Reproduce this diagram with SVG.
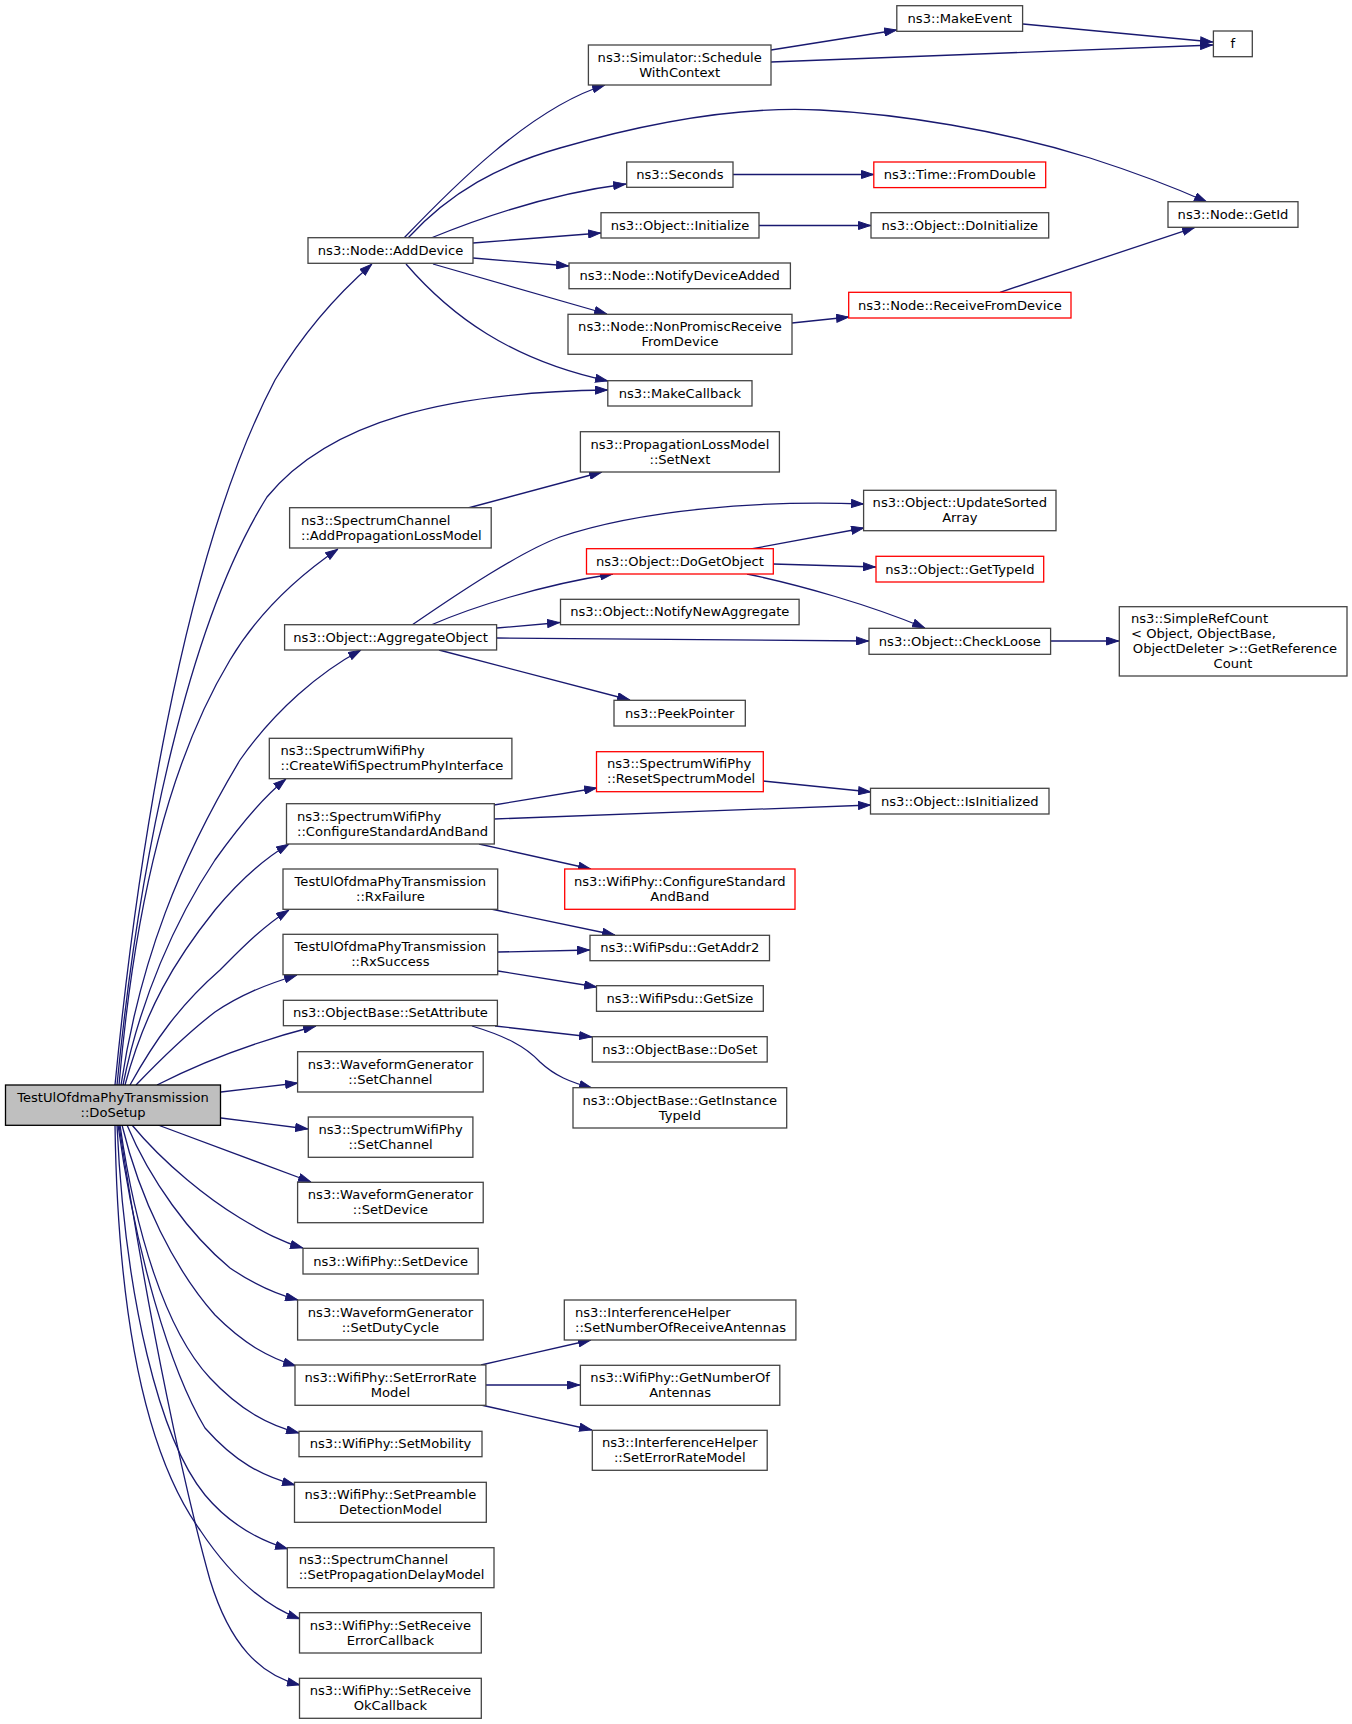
<svg xmlns="http://www.w3.org/2000/svg" width="1352" height="1724" viewBox="0 0 1352 1724">
<style>
.n rect{fill:#ffffff;stroke:#444444;stroke-width:1.3}
.n.r rect{stroke:#ff0000}
.n.root rect{fill:#bfbfbf;stroke:#000000}
text{font-family:"DejaVu Sans","Noto Sans",sans-serif;font-size:13.1px;fill:#000000}
.c{text-anchor:middle}
#edges path{fill:none;stroke:#191970;stroke-width:1.3;marker-end:url(#ah)}
</style>
<defs>
<marker id="ah" markerUnits="userSpaceOnUse" markerWidth="13" markerHeight="9" refX="13" refY="4.5" orient="auto" viewBox="0 0 13 9"><path d="M0.5,0.5 L12.5,4.5 L0.5,8.5 z" fill="#191970" stroke="#191970" stroke-width="1"/></marker>
</defs>
<rect x="0" y="0" width="1352" height="1724" fill="#ffffff"/>
<g id="edges">
<path d="M115,1085 C135,880 180,560 275,380 C305,330 340,292 372,264"/>
<path d="M117,1085 C140,850 190,620 267,497 C330,420 450,392 608,390"/>
<path d="M119,1085 C135,900 170,760 230,660 C260,610 300,575 338,549"/>
<path d="M121,1085 C140,960 180,860 240,760 C275,710 320,672 361,650"/>
<path d="M123,1085 C140,1000 175,920 215,860 C240,825 262,798 286,779"/>
<path d="M125,1085 C145,1010 175,960 215,910 C240,880 262,860 289,844"/>
<path d="M130,1085 C155,1040 180,1005 220,970 C240,950 262,927 289,910"/>
<path d="M136,1085 C160,1060 185,1035 215,1012 C240,995 265,985 297,975"/>
<path d="M157,1085 C200,1063 250,1043 316,1026"/>
<path d="M221,1092 L298,1083"/>
<path d="M221,1118 L308,1129"/>
<path d="M158,1125 L311,1182"/>
<path d="M132,1125 C165,1165 210,1200 240,1218 C265,1233 282,1242 303,1248"/>
<path d="M127,1125 C150,1180 190,1235 230,1268 C255,1285 275,1294 298,1300"/>
<path d="M122,1125 C140,1200 175,1270 215,1315 C245,1345 270,1358 296,1366"/>
<path d="M120,1125 C135,1230 165,1330 210,1378 C240,1410 268,1425 299,1433"/>
<path d="M118,1125 C135,1250 170,1370 205,1428 C235,1462 262,1476 295,1485"/>
<path d="M117,1125 C125,1300 160,1440 205,1495 C230,1525 258,1540 288,1549"/>
<path d="M115,1125 C118,1330 150,1460 200,1530 C230,1575 262,1605 300,1619"/>
<path d="M119,1125 C150,1330 185,1490 210,1580 C230,1645 260,1675 300,1685"/>
<path d="M404,238 C450,190 530,108 605,85"/>
<path d="M408,238 C450,192 500,165 560,148 C650,122 740,106 820,110 C900,114 1000,130 1090,158 C1140,174 1180,190 1207,202"/>
<path d="M431,238 C470,222 540,195 626,184"/>
<path d="M473,243 L601,233"/>
<path d="M473,258 L569,266"/>
<path d="M433,264 L607,314"/>
<path d="M406,264 C450,315 510,360 608,381"/>
<path d="M771,50 L897,30"/>
<path d="M771,62 L1213,45"/>
<path d="M1023,24 L1213,42"/>
<path d="M733,174.5 L874,174.5"/>
<path d="M759,225.5 L871,225.5"/>
<path d="M792,323 L849,317"/>
<path d="M1000,292.3 L1195,227.3"/>
<path d="M468,508 L602,472"/>
<path d="M412,625 C460,592 520,552 560,537 C640,510 760,500 864,504"/>
<path d="M431,625 C470,608 540,585 613,574"/>
<path d="M497,628 L560,622.5"/>
<path d="M497,638 L869,641"/>
<path d="M439,650 L630,700"/>
<path d="M751,549 L864,528"/>
<path d="M773,564 L876,567"/>
<path d="M747,574 C800,585 870,605 925,628"/>
<path d="M1051,641 L1119,641"/>
<path d="M494,805 L597,788"/>
<path d="M494,819 L871,805"/>
<path d="M763,781 L871,792"/>
<path d="M479,844 L591,869"/>
<path d="M491,909 L615,935"/>
<path d="M498,952 L590,950"/>
<path d="M498,971 L597,987"/>
<path d="M495,1026 L592,1037"/>
<path d="M472,1026 C505,1036 525,1046 540,1062 C555,1076 570,1082 592,1088"/>
<path d="M481,1365 L591,1340"/>
<path d="M486,1385 L580,1385"/>
<path d="M481,1405 L592,1430"/>
</g>
<g id="n_dosetup" class="n root"><rect x="5.5" y="1085" width="215" height="40.3"/><text class="c" x="113" y="1101.9">TestUlOfdmaPhyTransmission</text><text class="c" x="113" y="1116.9">::DoSetup</text></g>
<g id="n_adddevice" class="n"><rect x="308" y="237.7" width="165" height="25.6"/><text class="c" x="390.5" y="254.9">ns3::Node::AddDevice</text></g>
<g id="n_schedule" class="n"><rect x="588.4" y="45" width="182.6" height="40"/><text class="c" x="679.7" y="61.7">ns3::Simulator::Schedule</text><text class="c" x="679.7" y="76.7">WithContext</text></g>
<g id="n_makeevent" class="n"><rect x="896.8" y="5.7" width="125.8" height="25.6"/><text class="c" x="959.7" y="22.9">ns3::MakeEvent</text></g>
<g id="n_f" class="n"><rect x="1213.4" y="31" width="38.9" height="25.7"/><text class="c" x="1232.85" y="48.2">f</text></g>
<g id="n_seconds" class="n"><rect x="626.7" y="162" width="106.3" height="25.3"/><text class="c" x="679.85" y="179.05">ns3::Seconds</text></g>
<g id="n_fromdouble" class="n r"><rect x="873.8" y="162" width="171.9" height="25.6"/><text class="c" x="959.75" y="179.2">ns3::Time::FromDouble</text></g>
<g id="n_initialize" class="n"><rect x="601" y="212.7" width="158" height="25.3"/><text class="c" x="680" y="229.75">ns3::Object::Initialize</text></g>
<g id="n_doinitialize" class="n"><rect x="871" y="212.7" width="177.7" height="25.3"/><text class="c" x="959.85" y="229.75">ns3::Object::DoInitialize</text></g>
<g id="n_getid" class="n"><rect x="1168" y="201.7" width="130" height="25.6"/><text class="c" x="1233" y="218.9">ns3::Node::GetId</text></g>
<g id="n_notifydeviceadded" class="n"><rect x="569" y="263" width="221.4" height="25.7"/><text class="c" x="679.7" y="280.25">ns3::Node::NotifyDeviceAdded</text></g>
<g id="n_receivefromdevice" class="n r"><rect x="848.7" y="292.3" width="222.3" height="25.7"/><text class="c" x="959.85" y="309.55">ns3::Node::ReceiveFromDevice</text></g>
<g id="n_nonpromisc" class="n"><rect x="568" y="314.3" width="224" height="40"/><text class="c" x="680" y="331">ns3::Node::NonPromiscReceive</text><text class="c" x="680" y="346">FromDevice</text></g>
<g id="n_makecallback" class="n"><rect x="607.8" y="380.7" width="144.2" height="25.3"/><text class="c" x="679.9" y="397.75">ns3::MakeCallback</text></g>
<g id="n_setnext" class="n"><rect x="580.4" y="431.7" width="199" height="40.3"/><text class="c" x="679.9" y="448.55">ns3::PropagationLossModel</text><text class="c" x="679.9" y="463.55">::SetNext</text></g>
<g id="n_addproploss" class="n"><rect x="289.6" y="507.7" width="201.6" height="40.3"/><text x="301" y="524.55">ns3::SpectrumChannel</text><text x="301" y="539.55">::AddPropagationLossModel</text></g>
<g id="n_updatesorted" class="n"><rect x="863.6" y="490.3" width="192.4" height="40.4"/><text class="c" x="959.8" y="507.2">ns3::Object::UpdateSorted</text><text class="c" x="959.8" y="522.2">Array</text></g>
<g id="n_dogetobject" class="n r"><rect x="586.5" y="548.7" width="186.8" height="25.3"/><text class="c" x="679.9" y="565.75">ns3::Object::DoGetObject</text></g>
<g id="n_gettypeid" class="n r"><rect x="876" y="556.3" width="167.7" height="25.7"/><text class="c" x="959.85" y="573.55">ns3::Object::GetTypeId</text></g>
<g id="n_notifynewaggregate" class="n"><rect x="560.5" y="599.3" width="238.6" height="25.4"/><text class="c" x="679.8" y="616.4">ns3::Object::NotifyNewAggregate</text></g>
<g id="n_aggregateobject" class="n"><rect x="284.6" y="624.7" width="212" height="25.3"/><text class="c" x="390.6" y="641.75">ns3::Object::AggregateObject</text></g>
<g id="n_checkloose" class="n"><rect x="869" y="628.3" width="181.6" height="26"/><text class="c" x="959.8" y="645.7">ns3::Object::CheckLoose</text></g>
<g id="n_simplerefcount" class="n"><rect x="1119.3" y="606.7" width="227.7" height="69.3"/><text x="1131" y="623.25">ns3::SimpleRefCount</text><text x="1131" y="638.25">&lt; Object, ObjectBase,</text><text class="c" x="1235" y="653.25">ObjectDeleter &gt;::GetReference</text><text class="c" x="1233" y="668.25">Count</text></g>
<g id="n_peekpointer" class="n"><rect x="614" y="700.3" width="131.3" height="25.7"/><text class="c" x="679.65" y="717.55">ns3::PeekPointer</text></g>
<g id="n_createwifi" class="n"><rect x="269.3" y="738.3" width="242.6" height="40.4"/><text x="280.5" y="755.2">ns3::SpectrumWifiPhy</text><text x="280.5" y="770.2">::CreateWifiSpectrumPhyInterface</text></g>
<g id="n_resetspectrum" class="n r"><rect x="596.5" y="751.7" width="166.8" height="40"/><text x="607" y="768.4">ns3::SpectrumWifiPhy</text><text x="607" y="783.4">::ResetSpectrumModel</text></g>
<g id="n_swconfigure" class="n"><rect x="286.5" y="803.7" width="207.8" height="40.3"/><text x="297" y="820.55">ns3::SpectrumWifiPhy</text><text x="297" y="835.55">::ConfigureStandardAndBand</text></g>
<g id="n_isinitialized" class="n"><rect x="870.5" y="788.3" width="178.5" height="25.7"/><text class="c" x="959.75" y="805.55">ns3::Object::IsInitialized</text></g>
<g id="n_rxfailure" class="n"><rect x="283" y="869" width="214.7" height="40.3"/><text class="c" x="390.35" y="885.85">TestUlOfdmaPhyTransmission</text><text class="c" x="390.35" y="900.85">::RxFailure</text></g>
<g id="n_wpconfigure" class="n r"><rect x="564.7" y="869" width="230.3" height="40.3"/><text class="c" x="679.85" y="885.85">ns3::WifiPhy::ConfigureStandard</text><text class="c" x="679.85" y="900.85">AndBand</text></g>
<g id="n_rxsuccess" class="n"><rect x="283" y="934.3" width="214.7" height="40.4"/><text class="c" x="390.35" y="951.2">TestUlOfdmaPhyTransmission</text><text class="c" x="390.35" y="966.2">::RxSuccess</text></g>
<g id="n_getaddr2" class="n"><rect x="590" y="935.3" width="179.5" height="25.4"/><text class="c" x="679.75" y="952.4">ns3::WifiPsdu::GetAddr2</text></g>
<g id="n_getsize" class="n"><rect x="596.5" y="985.7" width="166.8" height="25.6"/><text class="c" x="679.9" y="1002.9">ns3::WifiPsdu::GetSize</text></g>
<g id="n_setattribute" class="n"><rect x="283.4" y="1000.3" width="214" height="25.4"/><text class="c" x="390.4" y="1017.4">ns3::ObjectBase::SetAttribute</text></g>
<g id="n_doset" class="n"><rect x="592.3" y="1036.7" width="174.9" height="25.3"/><text class="c" x="679.75" y="1053.75">ns3::ObjectBase::DoSet</text></g>
<g id="n_wgsetchannel" class="n"><rect x="297.6" y="1051.7" width="185.6" height="40.3"/><text class="c" x="390.4" y="1068.55">ns3::WaveformGenerator</text><text class="c" x="390.4" y="1083.55">::SetChannel</text></g>
<g id="n_getinstancetypeid" class="n"><rect x="573" y="1087.7" width="213.7" height="40.3"/><text class="c" x="679.85" y="1104.55">ns3::ObjectBase::GetInstance</text><text class="c" x="679.85" y="1119.55">TypeId</text></g>
<g id="n_swsetchannel" class="n"><rect x="308.3" y="1117" width="164.6" height="40.3"/><text class="c" x="390.6" y="1133.85">ns3::SpectrumWifiPhy</text><text class="c" x="390.6" y="1148.85">::SetChannel</text></g>
<g id="n_wgsetdevice" class="n"><rect x="297.6" y="1182.3" width="185.6" height="40.4"/><text class="c" x="390.4" y="1199.2">ns3::WaveformGenerator</text><text class="c" x="390.4" y="1214.2">::SetDevice</text></g>
<g id="n_wpsetdevice" class="n"><rect x="303" y="1248.3" width="175.2" height="25.7"/><text class="c" x="390.6" y="1265.55">ns3::WifiPhy::SetDevice</text></g>
<g id="n_setdutycycle" class="n"><rect x="297.6" y="1300" width="185.6" height="40"/><text class="c" x="390.4" y="1316.7">ns3::WaveformGenerator</text><text class="c" x="390.4" y="1331.7">::SetDutyCycle</text></g>
<g id="n_setnumrxant" class="n"><rect x="564.3" y="1300" width="231.6" height="40"/><text x="575" y="1316.7">ns3::InterferenceHelper</text><text x="575" y="1331.7">::SetNumberOfReceiveAntennas</text></g>
<g id="n_seterrorrate" class="n"><rect x="295" y="1365" width="190.9" height="40.3"/><text class="c" x="390.45" y="1381.85">ns3::WifiPhy::SetErrorRate</text><text class="c" x="390.45" y="1396.85">Model</text></g>
<g id="n_getnumant" class="n"><rect x="580.4" y="1365.3" width="199.4" height="40"/><text class="c" x="680.1" y="1382">ns3::WifiPhy::GetNumberOf</text><text class="c" x="680.1" y="1397">Antennas</text></g>
<g id="n_ihseterrorrate" class="n"><rect x="592.3" y="1430.3" width="174.9" height="40"/><text class="c" x="679.75" y="1447">ns3::InterferenceHelper</text><text class="c" x="679.75" y="1462">::SetErrorRateModel</text></g>
<g id="n_setmobility" class="n"><rect x="299" y="1431.3" width="183" height="25.4"/><text class="c" x="390.5" y="1448.4">ns3::WifiPhy::SetMobility</text></g>
<g id="n_setpreamble" class="n"><rect x="294.5" y="1482.3" width="191.8" height="40"/><text class="c" x="390.4" y="1499">ns3::WifiPhy::SetPreamble</text><text class="c" x="390.4" y="1514">DetectionModel</text></g>
<g id="n_setpropdelay" class="n"><rect x="287.3" y="1547.7" width="206.7" height="40"/><text x="298.7" y="1564.4">ns3::SpectrumChannel</text><text x="298.7" y="1579.4">::SetPropagationDelayModel</text></g>
<g id="n_setrxerror" class="n"><rect x="299.5" y="1612.7" width="181.8" height="40.3"/><text class="c" x="390.4" y="1629.55">ns3::WifiPhy::SetReceive</text><text class="c" x="390.4" y="1644.55">ErrorCallback</text></g>
<g id="n_setrxok" class="n"><rect x="299.5" y="1678.3" width="181.8" height="40"/><text class="c" x="390.4" y="1695">ns3::WifiPhy::SetReceive</text><text class="c" x="390.4" y="1710">OkCallback</text></g>
</svg>
